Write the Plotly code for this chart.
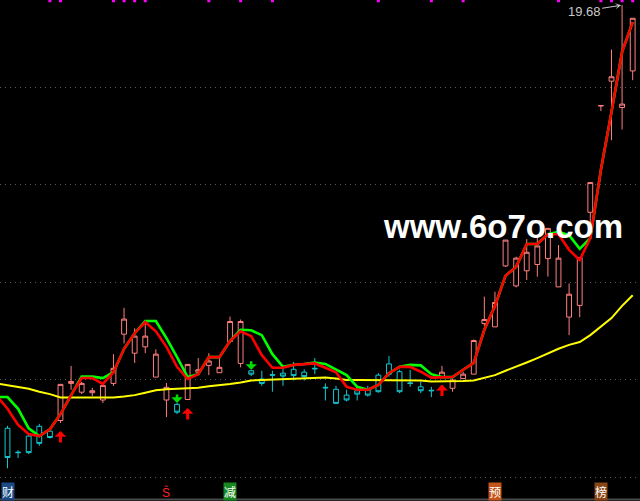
import plotly.graph_objects as go

# ---------------- data ----------------
idx = list(range(60))
opens = [11.00, 10.51, 10.84, 11.04, 10.94, 11.16, 11.92, 11.74, 11.73, 11.58,
         11.92, 12.93, 12.54, 12.67, 12.05, 11.58, 11.49, 11.59, 12.15, 12.29,
         12.14, 12.78, 12.33, 12.18, 12.01, 12.10, 12.13, 12.21, 12.15, 12.23,
         11.84, 11.80, 11.68, 11.77, 11.79, 12.09, 12.32, 12.16, 11.93, 11.85,
         11.78, 12.06, 11.82, 12.02, 12.11, 13.15, 13.08, 14.33, 13.92, 14.23,
         14.36, 14.48, 13.90, 13.28, 13.52, 15.43, 17.61, 18.12, 17.58, 18.33]
highs = [11.05, 10.55, 10.90, 11.09, 10.95, 11.90, 12.28, 11.95, 11.83, 11.88,
         12.52, 13.47, 13.05, 13.16, 12.62, 11.93, 11.52, 12.31, 12.44, 12.54,
         12.47, 13.29, 13.23, 12.20, 12.18, 12.18, 12.26, 12.36, 12.21, 12.44,
         11.92, 11.87, 11.79, 11.85, 11.87, 12.13, 12.48, 12.20, 12.20, 11.96,
         11.85, 12.28, 12.02, 12.16, 12.82, 13.70, 13.80, 14.86, 14.52, 14.88,
         14.93, 15.11, 14.76, 13.97, 14.50, 16.04, 17.62, 18.77, 19.68, 19.41]
lows = [10.18, 10.39, 10.47, 10.64, 10.79, 11.11, 11.79, 11.70, 11.66, 11.52,
        11.87, 12.74, 12.34, 12.54, 12.05, 11.23, 11.29, 11.58, 12.09, 12.09,
        12.14, 12.74, 12.25, 12.07, 11.87, 11.75, 11.87, 11.98, 11.98, 12.11,
        11.57, 11.51, 11.55, 11.57, 11.65, 11.73, 12.06, 11.72, 11.85, 11.72,
        11.64, 12.06, 11.75, 12.02, 12.11, 13.10, 13.08, 14.31, 13.89, 14.04,
        14.11, 14.11, 13.90, 12.91, 13.28, 15.17, 17.51, 16.91, 17.13, 18.14]
closes = [10.40, 10.50, 10.50, 10.69, 10.81, 11.90, 11.96, 11.92, 11.77, 11.88,
          12.23, 13.24, 12.89, 12.89, 12.52, 11.84, 11.33, 12.31, 12.20, 12.38,
          12.25, 13.19, 13.19, 12.11, 11.92, 12.09, 12.07, 12.08, 12.06, 12.22,
          11.83, 11.51, 11.58, 11.70, 11.68, 11.75, 12.11, 11.75, 11.92, 11.77,
          11.77, 12.15, 11.99, 12.11, 12.80, 13.23, 13.58, 14.86, 14.49, 14.61,
          14.74, 15.10, 14.49, 13.75, 14.50, 16.04, 17.62, 18.21, 17.65, 19.41]

# indicator lines (one extra point before the first visible candle)
line_x = list(range(-1, 60))
red_line = [11.66, 11.40, 11.07, 10.88, 10.84, 10.98, 11.29, 11.68, 12.03, 12.03, 11.91,
            12.15, 12.63, 12.95, 13.18, 12.99, 12.67, 12.26, 12.01, 12.11, 12.46,
            12.46, 12.79, 12.99, 12.89, 12.50, 12.24, 12.24, 12.30, 12.32, 12.33,
            12.24, 12.15, 11.85, 11.79, 11.79, 11.89, 12.13, 12.26, 12.26, 12.16,
            12.04, 12.04, 12.05, 12.20, 12.34, 13.02, 13.51, 14.13, 14.31, 14.78,
            14.78, 14.98, 14.98, 14.66, 14.45, 14.90, 16.30, 17.49, 18.72, 19.33]
green_line = [11.64, 11.64, 11.40, 11.00, 10.84, 10.98, 11.29, 11.68, 12.06, 12.06, 12.03,
              12.15, 12.63, 12.95, 13.20, 13.20, 12.85, 12.46, 12.05, 12.11, 12.46,
              12.46, 12.79, 13.02, 13.01, 12.91, 12.52, 12.26, 12.30, 12.32, 12.35,
              12.32, 12.20, 12.09, 11.85, 11.79, 11.89, 12.13, 12.26, 12.30, 12.29,
              12.11, 12.05, 12.05, 12.20, 12.34, 13.02, 13.51, 14.13, 14.31, 14.78,
              14.78, 14.98, 15.03, 14.96, 14.68, 14.90, 16.30, 17.49, 18.72, 19.33]
yellow_line = [11.92, 11.88, 11.85, 11.81, 11.75, 11.70, 11.63, 11.63, 11.63, 11.63, 11.63,
               11.63, 11.65, 11.68, 11.73, 11.78, 11.80, 11.81, 11.82, 11.83, 11.86,
               11.88, 11.91, 11.94, 11.98, 11.99, 12.00, 12.01, 12.02, 12.03, 12.04,
               12.04, 12.02, 11.99, 11.99, 11.99, 11.99, 11.98, 11.98, 11.98, 11.98,
               11.96, 11.96, 11.96, 11.97, 11.98, 12.03, 12.09, 12.18, 12.26, 12.35,
               12.44, 12.54, 12.63, 12.71, 12.77, 12.91, 13.09, 13.26, 13.51, 13.73]

buy_idx = [5, 17, 41]
sell_idx = [16, 23]
top_marks = [4, 5, 10, 11, 12, 13, 19, 22, 25, 35, 40, 43, 52, 56, 57, 58, 59]
bottom_tags = ["财", "Ŝ", "减", "预", "榜"]
bottom_tag_idx = [0, 15, 21, 46, 56]
bottom_tag_bg = ["#1d4a86", "rgba(0,0,0,0)", "#17871f", "#c4541a", "#8a4614"]
bottom_tag_fg = ["#ffffff", "#ff2020", "#ffffff", "#ffffff", "#ffffff"]
high_label = "19.68"
watermark = "www.6o7o.com"

UP = "#ff7f7f"
DOWN = "#14c8d2"

fig = go.Figure()

fig.add_trace(go.Candlestick(
    x=idx, open=opens, high=highs, low=lows, close=closes,
    increasing=dict(line=dict(color=UP, width=1), fillcolor="#000000"),
    decreasing=dict(line=dict(color=DOWN, width=1), fillcolor="#000000"),
    whiskerwidth=0, hoverinfo="skip", showlegend=False))

fig.add_trace(go.Scatter(x=line_x, y=yellow_line, mode="lines",
                         line=dict(color="#ffff00", width=2), showlegend=False, hoverinfo="skip"))
fig.add_trace(go.Scatter(x=line_x, y=green_line, mode="lines",
                         line=dict(color="#00ff00", width=2.6), showlegend=False, hoverinfo="skip"))
fig.add_trace(go.Scatter(x=line_x, y=red_line, mode="lines",
                         line=dict(color="#ff0000", width=2.6), showlegend=False, hoverinfo="skip"))

# magenta signal dots along the top edge
fig.add_trace(go.Scatter(x=top_marks, y=[19.77] * len(top_marks), mode="markers",
                         marker=dict(symbol="square", size=3, color="#ff00ff", line=dict(width=0)),
                         showlegend=False, hoverinfo="skip", cliponaxis=False))

for i in buy_idx:
    fig.add_annotation(x=i, y=lows[i], yshift=-8, ax=0, ay=13, text="", showarrow=True,
                       arrowhead=1, arrowsize=0.65, arrowwidth=3, arrowcolor="#ff0000", standoff=0)
for i in sell_idx:
    fig.add_annotation(x=i, y=highs[i], ax=0, ay=-10, text="", showarrow=True,
                       arrowhead=1, arrowsize=0.75, arrowwidth=2.5, arrowcolor="#00dd00", standoff=0)

# high label
hi_i = highs.index(max(highs))
fig.add_annotation(x=hi_i, y=highs[hi_i], text=high_label, showarrow=True, ax=-38, ay=6,
                   arrowhead=3, arrowsize=1, arrowwidth=1, arrowcolor="#c8c8c8", standoff=1,
                   font=dict(family="Liberation Sans", size=13, color="#c8c8c8"))

# bottom tags
for t, i, bg, fg in zip(bottom_tags, bottom_tag_idx, bottom_tag_bg, bottom_tag_fg):
    fig.add_annotation(x=i, xref="x", y=0.018, yref="paper", yanchor="middle", xanchor="center",
                       text=t, showarrow=False, bgcolor=bg, borderpad=0,
                       font=dict(family="Noto Sans CJK SC, Liberation Sans", size=12, color=fg))

# watermark
fig.add_annotation(x=0.786, xref="paper", y=0.548, yref="paper", xanchor="center", yanchor="middle",
                   text="<b>" + watermark + "</b>", showarrow=False,
                   font=dict(family="Liberation Sans", size=33, color="#ffffff"))

# bottom separator line
fig.add_shape(type="line", xref="paper", yref="paper", x0=0, x1=1, y0=0.003, y1=0.003,
              line=dict(color="#4a4a4a", width=2))

fig.update_layout(
    width=640, height=501,
    margin=dict(l=0, r=0, t=0, b=0),
    paper_bgcolor="#000000", plot_bgcolor="#000000",
    boxgap=0.35,
    xaxis=dict(range=[-0.708, 59.69], showgrid=False, zeroline=False, showticklabels=False,
               rangeslider=dict(visible=False), showline=False, ticks=""),
    yaxis=dict(range=[9.508, 19.785], tick0=0, dtick=2, showgrid=True, gridcolor="#5a5a5a",
               griddash="1px,4px", gridwidth=1, zeroline=False, showticklabels=False,
               showline=False, ticks=""),
    showlegend=False,
)

fig.write_html("out.html", config={"displayModeBar": False},
               post_script="document.body.style.margin='0';document.body.style.background='#000';"
                           "document.body.style.overflow='hidden';")
